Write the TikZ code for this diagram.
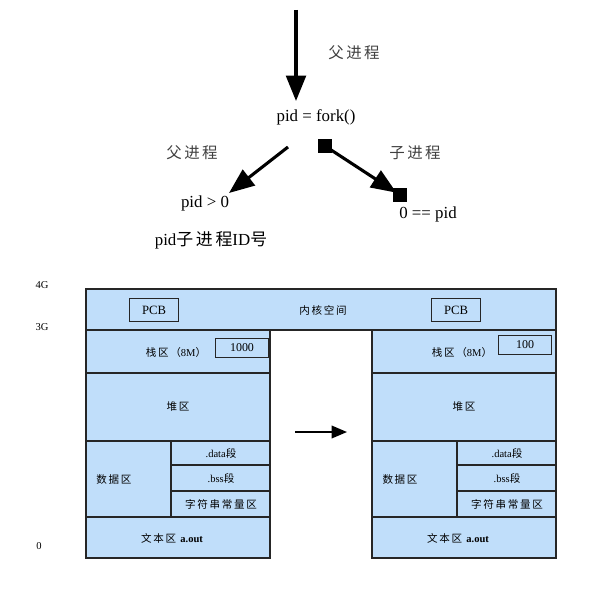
\documentclass[tikz,border=0pt]{standalone}
\usepackage{fontspec}
\setmainfont{Liberation Serif}
\newfontfamily\cjk[LetterSpace=16]{Noto Sans CJK SC}
\usetikzlibrary{arrows.meta, positioning}

\definecolor{memblue}{RGB}{192,222,250}
\newcommand{\zh}[1]{{\cjk #1}}

\tikzset{
  seg/.style={draw=black!85, fill=memblue, line width=0.8pt},
  boxed/.style={draw=black!85, line width=0.9pt, minimum width=35pt, minimum height=16pt, inner sep=0pt},
  small/.style={font=\fontsize{7.5}{9}\selectfont, inner sep=0pt},
  big/.style={font=\fontsize{12}{14}\selectfont, inner sep=1pt},
  zhlabel/.style={font=\fontsize{11}{13}\selectfont\cjk, text=black!75, inner sep=0pt},
  mark box/.style={fill=black, minimum size=10pt, inner sep=0pt},
  bigarrow/.style={line width=2.2pt, -{Triangle[length=18pt,width=14pt]}},
}

\begin{document}
\begin{tikzpicture}[x=0.025cm, y=-0.025cm]
  \useasboundingbox (0,0) rectangle (615,590);

  % fork
  \node[big] (fork) at (316,117) {pid = fork()};
  \coordinate (start) at (296,10);
  \coordinate (forkin) at (296,101);
  \draw[bigarrow] (start) -- (forkin);
  \node[zhlabel] (parent) at (354,53) {父进程};

  \node[zhlabel] (parentL) at (192,153) {父进程};
  \node[zhlabel] (child) at (415,153) {子进程};
  \node[big] (gt) at (205,203) {pid > 0};
  \node[big] (childid) at (211,240) {pid\zh{子进程}ID\zh{号}};
  \node[big] (eq) at (428,214) {0 == pid};

  \coordinate (lstart) at (288,147);
  \coordinate (ltip) at (229,193);
  \draw[bigarrow] (lstart) -- (ltip);

  \node[mark box] (sqa) at (325,146) {};
  \node[mark box] (sqb) at (400,195) {};
  \draw[bigarrow, shorten >=3pt] (sqa.center) -- (sqb.center);

  % address marks
  \node[small] (g4) at (42,285) {4G};
  \node[small] (g3) at (42,327) {3G};
  \node[small] (g0) at (39,546) {0};

  % kernel space
  \draw[seg] (86,289) rectangle (556,330);
  \node[small] (kernel) at (323,310) {\zh{内核空间}};

  % two address spaces
  \foreach \x/\num/\ny/\pc/\nx/\i in {86/1000/348/68/156/a, 372/100/345/84/153/b} {
    \pgfmathsetmacro{\xe}{\x+184}
    \pgfmathsetmacro{\xs}{\x+85}
    \draw[seg] (\x,330) rectangle (\xe,373);
    \draw[seg] (\x,373) rectangle (\xe,441);
    \draw[seg] (\x,441) rectangle (\xs,517);
    \draw[seg] (\xs,441) rectangle (\xe,465);
    \draw[seg] (\xs,465) rectangle (\xe,491);
    \draw[seg] (\xs,491) rectangle (\xe,517);
    \draw[seg] (\x,517) rectangle (\xe,558);
    \node[boxed, font=\fontsize{9}{11}\selectfont] (pcb\i) at (\x+\pc,310) {PCB};
    \node[boxed, minimum width=38pt, minimum height=14pt, font=\fontsize{8.5}{10}\selectfont] (num\i) at (\x+\nx,\ny) {\num};
    \node[small] (stack\i) at (\x+90,352) {\zh{栈区（}8M\zh{）}};
    \node[small] (heap\i) at (\x+92,407) {\zh{堆区}};
    \node[small] (data\i) at (\x+28,479) {\zh{数据区}};
    \node[small] (dseg\i) at (\x+135,453) {.data\zh{段}};
    \node[small] (bss\i) at (\x+135,478) {.bss\zh{段}};
    \node[small] (str\i) at (\x+135,504) {\zh{字符串常量区}};
    \node[small] (text\i) at (\x+86,538) {\zh{文本区} \textbf{a.out}};
  }

  % copy
  \coordinate (ca) at (295,432);
  \coordinate (cb) at (347,432);
  \draw[line width=1.3pt, -{Triangle[length=11pt,width=9pt]}] (ca) -- (cb);
\end{tikzpicture}
\end{document}
